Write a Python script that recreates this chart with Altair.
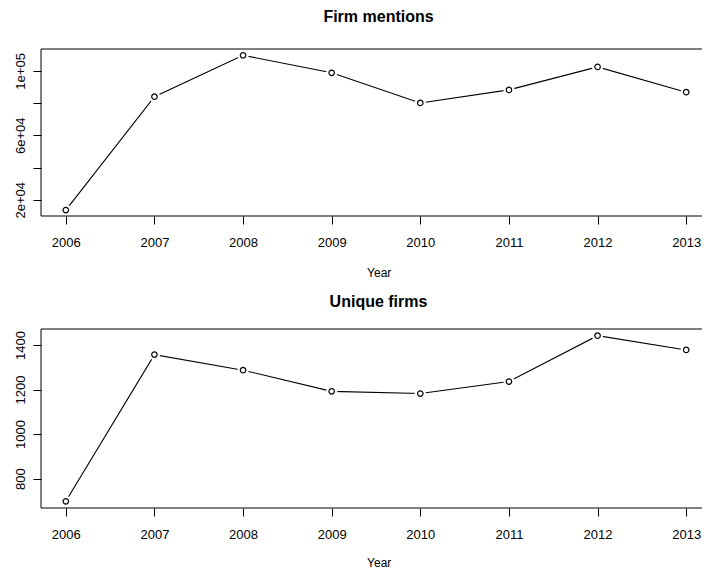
import altair as alt
import pandas as pd

years = [2006, 2007, 2008, 2009, 2010, 2011, 2012, 2013]
firm_mentions = [13600, 84000, 109700, 98800, 80100, 88200, 102500, 86800]
unique_firms = [698, 1357, 1287, 1192, 1182, 1236, 1442, 1378]

top_ticks = [20000, 40000, 60000, 80000, 100000]
top_tick_labels = {20000: "2e+04", 60000: "6e+04", 100000: "1e+05"}
bottom_ticks = [800, 1000, 1200, 1400]

FONT = "Liberation Sans"
W = 670

def panel(values, title, height, ydomain, yticks, label_expr, title_offset, title_y):
    df = pd.DataFrame({"Year": years, "v": values})
    base = alt.Chart(df)
    x = alt.X("Year:Q",
              scale=alt.Scale(domain=[2005.72, 2013.28], nice=False, zero=False),
              axis=alt.Axis(values=years, format="d", title="Year", domain=False, grid=False,
                            tickSize=8, tickColor="black", tickWidth=1,
                            labelFont=FONT, labelFontSize=13, labelColor="black",
                            labelBaseline="alphabetic", labelPadding=22, labelFlush=False,
                            titleFont=FONT, titleFontSize=12, titleFontWeight="normal",
                            titleColor="black", titleBaseline="alphabetic",
                            titleX=337.7, titleY=title_y, titleAlign="center"))
    yaxis = dict(values=yticks, title=None, domain=False, grid=False, format="d",
                 tickSize=8, tickColor="black", tickWidth=1,
                 labelFont=FONT, labelFontSize=13, labelColor="black",
                 labelAngle=270, labelAlign="center", labelBaseline="alphabetic",
                 labelPadding=9, labelFlush=False, labelOverlap=False)
    if label_expr:
        yaxis["labelExpr"] = label_expr
    y = alt.Y("v:Q", scale=alt.Scale(domain=ydomain, nice=False, zero=False),
              axis=alt.Axis(**yaxis))
    line = base.mark_line(color="black", strokeWidth=1.1).encode(x=x, y=y)
    gap = base.mark_point(shape="circle", filled=True, fill="white", color="white",
                          opacity=1, size=125, strokeWidth=0).encode(x=x, y=y)
    pts = base.mark_point(shape="circle", filled=False, color="black", fill="white",
                          fillOpacity=1, opacity=1, size=30, strokeWidth=1.2).encode(x=x, y=y)
    box = alt.Chart(pd.DataFrame({"a": [0]})).mark_rect(
        fill=None, stroke="black", strokeWidth=1).encode(
        x=alt.value(0), x2=alt.value("width"), y=alt.value(0), y2=alt.value("height"))
    return alt.layer(line, gap, pts, box).properties(
        width=W, height=height,
        title=alt.TitleParams(title, font=FONT, fontSize=16, fontWeight="bold", color="black",
                              anchor="middle", frame="group", baseline="alphabetic",
                              offset=title_offset, dx=2.5))

label_expr_top = " : ".join(
    [f"datum.value == {k} ? '{v}'" for k, v in top_tick_labels.items()]) + " : ''"

top = panel(firm_mentions, "Firm mentions", 167, [9900, 113600], top_ticks, label_expr_top, 11, 60)
bottom = panel(unique_firms, "Unique firms", 179, [668, 1472], bottom_ticks, None, 6, 58)

chart = alt.vconcat(top, bottom, spacing=15).properties(
    padding={"left": 5, "top": 0, "right": -10, "bottom": 0},
    background="white"
).configure_view(stroke=None)

chart.save("out.html", embed_options={"renderer": "svg", "actions": False})
